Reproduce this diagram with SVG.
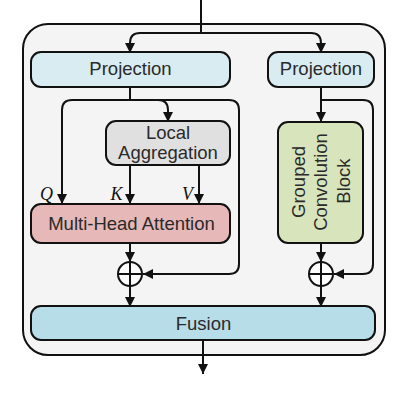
<svg xmlns="http://www.w3.org/2000/svg" width="414" height="406" viewBox="0 0 414 406">
<style>
.box{stroke:#111;stroke-width:2}
.lbl{font-family:"Liberation Sans",Arial,sans-serif;font-size:18.5px;fill:#2a2a2a;text-anchor:middle}
.math{font-family:"Liberation Serif","Times New Roman",serif;font-style:italic;font-size:18px;fill:#111;text-anchor:middle}
.c{fill:none;stroke:#111;stroke-width:2}
</style>
<defs>
<marker id="ah" markerUnits="userSpaceOnUse" markerWidth="11" markerHeight="11" refX="10" refY="5" orient="auto">
<path d="M0,0 L10,5 L0,10 z" fill="#111"/>
</marker>
</defs>
<rect id="container" x="23" y="24" width="362" height="331" rx="25" fill="#f4f4f4" stroke="#111" stroke-width="2"/>
<g id="connectors" class="c">
<path d="M201,0 V33"/>
<path d="M201,33 H140 Q130,33 130,43 V53" marker-end="url(#ah)"/>
<path d="M201,33 H311 Q321,33 321,43 V53" marker-end="url(#ah)"/>
<path d="M130,87 V100"/>
<path d="M130,100 H72 Q62,100 62,110 V204" marker-end="url(#ah)"/>
<path d="M130,100 H158 Q168,100 168,110 V122" marker-end="url(#ah)"/>
<path d="M130,100 H229 Q239,100 239,110 V264 Q239,274 229,274 H143" marker-end="url(#ah)"/>
<path d="M130,165 V204" marker-end="url(#ah)"/>
<path d="M199,165 V204" marker-end="url(#ah)"/>
<path d="M130,243 V262" marker-end="url(#ah)"/>
<path d="M130,286 V307" marker-end="url(#ah)"/>
<path d="M321,87 V122" marker-end="url(#ah)"/>
<path d="M321,100 H363 Q373,100 373,110 V264 Q373,274 363,274 H334" marker-end="url(#ah)"/>
<path d="M321,243 V262" marker-end="url(#ah)"/>
<path d="M321,286 V307" marker-end="url(#ah)"/>
<path d="M203,340 V374" marker-end="url(#ah)"/>
</g>
<g id="proj-left">
<rect class="box" x="31" y="52" width="199" height="35" rx="10" fill="#d9ecf2"/>
<text class="lbl" x="130.5" y="75">Projection</text>
</g>
<g id="proj-right">
<rect class="box" x="268" y="52" width="106" height="35" rx="10" fill="#d9ecf2"/>
<text class="lbl" x="321" y="75">Projection</text>
</g>
<g id="local-agg">
<rect class="box" x="106" y="121" width="124" height="44" rx="10" fill="#e0e0e0"/>
<text class="lbl" x="168" y="138.5">Local</text>
<text class="lbl" x="168" y="158.5">Aggregation</text>
</g>
<g id="qkv-labels">
<text class="math" x="46.5" y="199.5">Q</text>
<text class="math" x="116.5" y="199.5">K</text>
<text class="math" x="187.5" y="199.5">V</text>
</g>
<g id="mha">
<rect class="box" x="31" y="204" width="199" height="39" rx="10" fill="#e6b8b7"/>
<text class="lbl" x="131.5" y="229.5">Multi-Head Attention</text>
</g>
<g id="grouped-conv">
<rect class="box" x="278" y="122" width="85" height="121" rx="10" fill="#d8e4bc"/>
<text class="lbl" transform="translate(304.5,182) rotate(-90)">Grouped</text>
<text class="lbl" transform="translate(326.5,182) rotate(-90)">Convolution</text>
<text class="lbl" transform="translate(349.5,181) rotate(-90)">Block</text>
</g>
<g id="add-left">
<circle cx="130" cy="274" r="12" fill="#fff" stroke="#111" stroke-width="2"/>
<path d="M118,274 H142 M130,262 V286" stroke="#111" stroke-width="2"/>
</g>
<g id="add-right">
<circle cx="321" cy="274" r="12" fill="#fff" stroke="#111" stroke-width="2"/>
<path d="M309,274 H333 M321,262 V286" stroke="#111" stroke-width="2"/>
</g>
<g id="fusion">
<rect class="box" x="31" y="306" width="344" height="34" rx="10" fill="#b7dde8"/>
<text class="lbl" x="203.5" y="329.5">Fusion</text>
</g>
</svg>
